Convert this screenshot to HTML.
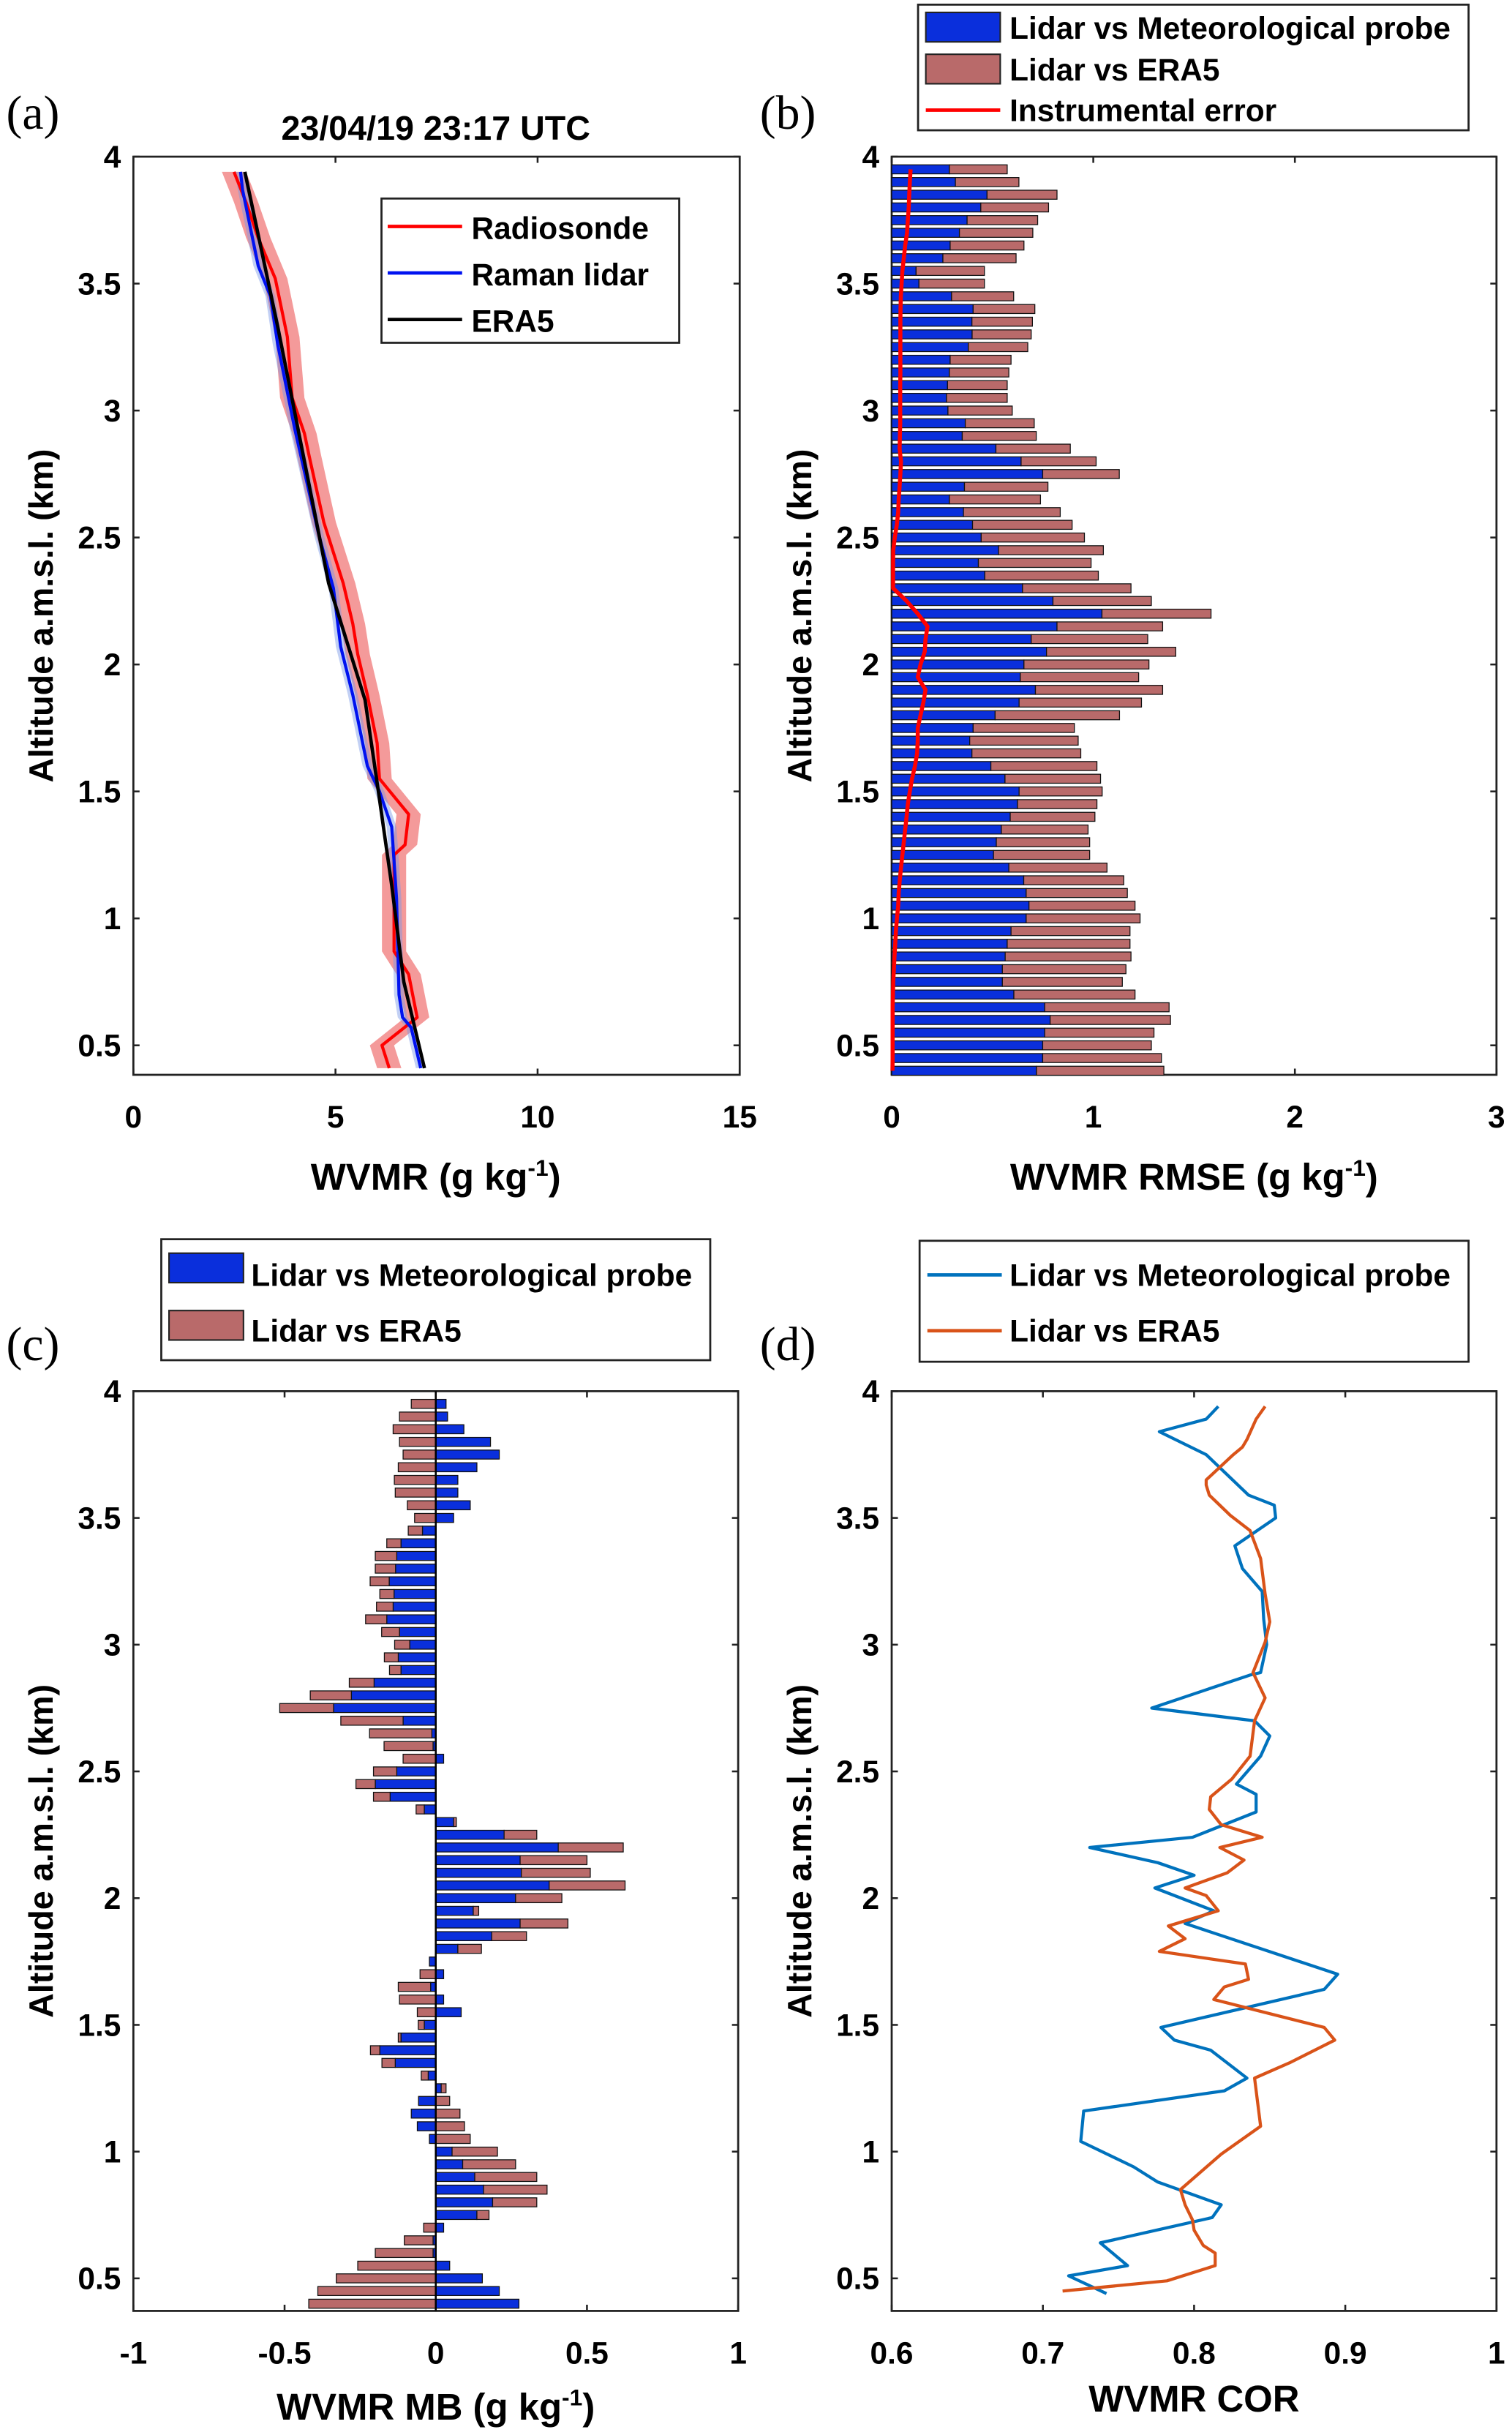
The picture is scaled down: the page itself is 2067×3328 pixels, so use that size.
<!DOCTYPE html>
<html><head><meta charset="utf-8"><style>
html,body{margin:0;padding:0;background:#fff;}
svg{display:block;}
text{font-family:"Liberation Sans",Arial,sans-serif;font-weight:bold;fill:#000;}
</style></head><body>
<svg id="fig" width="2067" height="3328" viewBox="0 0 975 1570" preserveAspectRatio="none" xmlns="http://www.w3.org/2000/svg"></svg>
<script>
// ---------- DATA ----------
const altBars = [3.95,3.90,3.85,3.80,3.75,3.70,3.65,3.60,3.55,3.50,3.45,3.40,3.35,3.30,3.25,3.20,3.15,3.10,3.05,3.00,2.95,2.90,2.85,2.80,2.75,2.70,2.65,2.60,2.55,2.50,2.45,2.40,2.35,2.30,2.25,2.20,2.15,2.10,2.05,2.00,1.95,1.90,1.85,1.80,1.75,1.70,1.65,1.60,1.55,1.50,1.45,1.40,1.35,1.30,1.25,1.20,1.15,1.10,1.05,1.00,0.95,0.90,0.85,0.80,0.75,0.70,0.65,0.60,0.55,0.50,0.45,0.40];
const rmseProbe = [.286,.316,.473,.442,.374,.336,.290,.254,.121,.135,.297,.404,.398,.399,.380,.290,.286,.277,.272,.279,.365,.350,.517,.642,.749,.361,.286,.356,.401,.444,.530,.430,.462,.649,.800,1.043,.820,.692,.768,.656,.638,.713,.632,.513,.404,.387,.398,.492,.562,.632,.624,.588,.544,.519,.505,.581,.655,.667,.681,.667,.592,.573,.563,.549,.549,.606,.759,.786,.759,.749,.749,.718];
const rmseEra = [.287,.315,.347,.336,.350,.364,.366,.363,.339,.325,.308,.306,.300,.293,.295,.302,.295,.296,.301,.319,.342,.367,.369,.372,.380,.414,.452,.480,.494,.512,.520,.559,.563,.538,.488,.541,.524,.578,.641,.620,.587,.631,.607,.617,.502,.538,.540,.526,.474,.412,.394,.420,.430,.463,.477,.487,.496,.502,.526,.565,.590,.609,.624,.613,.595,.601,.617,.597,.542,.539,.589,.632];
const instrErr = [.094,.090,.087,.085,.080,.076,.067,.060,.053,.049,.045,.044,.043,.043,.043,.043,.043,.042,.042,.042,.042,.041,.039,.046,.043,.039,.035,.032,.025,.015,.008,.007,.007,.007,.074,.129,.178,.168,.164,.143,.129,.168,.157,.143,.129,.129,.126,.115,.101,.090,.080,.074,.067,.060,.053,.046,.040,.035,.032,.026,.021,.018,.014,.011,.008,.006,.005,.005,.005,.005,.005,.004];
const mbProbe = [.034,.039,.093,.181,.210,.136,.073,.073,.114,.059,-.044,-.115,-.129,-.133,-.154,-.138,-.141,-.162,-.120,-.086,-.124,-.115,-.204,-.279,-.338,-.108,-.013,-.009,.026,-.129,-.200,-.151,-.038,.059,.226,.405,.279,.283,.375,.264,.124,.279,.185,.073,-.021,.026,-.017,.026,.084,-.038,-.115,-.185,-.134,-.025,.018,-.057,-.081,-.061,-.021,.054,.089,.129,.158,.188,.136,.026,-.009,-.009,.046,.154,.210,.275];
const mbEra = [-.081,-.120,-.141,-.120,-.108,-.124,-.137,-.134,-.094,-.070,-.047,-.047,-.071,-.067,-.063,-.047,-.055,-.070,-.059,-.050,-.046,-.038,-.082,-.136,-.178,-.206,-.206,-.162,-.108,-.077,-.064,-.055,-.027,.009,.108,.215,.221,.228,.251,.153,.018,.158,.115,.078,0,-.052,-.107,-.120,-.061,-.020,-.009,-.031,-.044,-.023,.016,.046,.080,.095,.114,.150,.175,.205,.210,.146,.040,-.040,-.095,-.191,-.258,-.329,-.390,-.420];
const altEra5 = [3.94,3.33,2.32,1.86,1.50,1.13,0.75,0.41];
const wvEra5 = [2.76,3.57,4.83,5.73,6.06,6.39,6.69,7.20];
const altLidar = [3.94,3.87,3.57,3.45,3.26,2.93,2.51,2.30,2.07,1.88,1.60,1.50,1.36,1.08,0.70,0.61,0.57,0.41];
const wvLidar = [2.65,2.70,3.09,3.39,3.57,3.99,4.59,4.95,5.13,5.43,5.79,6.09,6.39,6.51,6.57,6.66,6.87,7.11];
const altSonde = [3.94,3.82,3.68,3.52,3.29,3.05,2.91,2.82,2.56,2.32,2.16,2.04,1.88,1.69,1.55,1.41,1.29,1.25,0.87,0.78,0.61,0.50,0.41];
const wvSonde = [2.49,2.79,3.09,3.51,3.81,3.93,4.23,4.35,4.71,5.19,5.43,5.55,5.79,6.03,6.09,6.81,6.72,6.45,6.45,6.81,7.02,6.15,6.33];
const altCorProbe = [3.94,3.89,3.84,3.75,3.59,3.55,3.50,3.39,3.30,3.21,3.10,3.00,2.89,2.88,2.75,2.70,2.64,2.56,2.45,2.41,2.34,2.24,2.20,2.14,2.09,2.04,1.95,1.90,1.70,1.64,1.49,1.44,1.40,1.29,1.24,1.16,1.04,0.94,0.88,0.79,0.74,0.64,0.55,0.51,0.44];
const corProbe = [.816,.808,.777,.808,.836,.853,.854,.827,.832,.845,.846,.848,.844,.837,.772,.840,.850,.844,.828,.841,.841,.799,.731,.776,.800,.774,.813,.794,.895,.886,.778,.787,.811,.835,.820,.727,.725,.760,.776,.818,.812,.738,.756,.717,.742];
const altCorEra = [3.94,3.89,3.81,3.78,3.75,3.65,3.63,3.59,3.51,3.45,3.34,3.20,3.09,3.01,2.89,2.79,2.70,2.56,2.47,2.40,2.35,2.29,2.24,2.20,2.15,2.10,2.04,2.01,1.95,1.89,1.84,1.79,1.74,1.68,1.65,1.60,1.49,1.44,1.35,1.29,1.10,0.99,0.85,0.79,0.73,0.69,0.63,0.60,0.55,0.49,0.45];
const corEra = [.847,.841,.835,.832,.826,.808,.808,.810,.824,.837,.844,.847,.850,.847,.839,.847,.840,.837,.825,.811,.810,.818,.845,.817,.833,.822,.794,.808,.816,.783,.794,.777,.834,.836,.820,.813,.886,.893,.863,.840,.844,.818,.791,.794,.799,.800,.806,.814,.814,.782,.713];
const ticksAlt = [0.5,1,1.5,2,2.5,3,3.5,4];
const tickLabelsAlt = ['0.5','1','1.5','2','2.5','3','3.5','4'];
const ticksA = [0,5,10,15];
const ticksB = [0,1,2,3];
const ticksC = [-1,-0.5,0,0.5,1];
const tickLabelsC = ['-1','-0.5','0','0.5','1'];
const ticksD = [0.6,0.7,0.8,0.9,1];
const tickLabelsD = ['0.6','0.7','0.8','0.9','1'];

// ---------- HELPERS ----------
const NS='http://www.w3.org/2000/svg';
const svg=document.getElementById('fig');
function mk(tag, attrs, parent){const e=document.createElementNS(NS,tag);for(const k in attrs)e.setAttribute(k,attrs[k]);(parent||svg).appendChild(e);return e;}
function lin(d0,d1,r0,r1){return v=>r0+(v-d0)*(r1-r0)/(d1-d0);}
const BLUE='#0a2fdc', BROWN='#b96a6a';

function panel(name, L, R, T, B, xs, ys, xticks, xlabels){
  const g=mk('g',{});
  
  
  const frame=mk('rect',{x:L,y:T,width:R-L,height:B-T,fill:'none',stroke:'#222','stroke-width':1.3},g);
  
  
  xticks.forEach((t,i)=>{
    const x=xs(t);
    mk('line',{x1:x,y1:B,x2:x,y2:B-4,stroke:'#222','stroke-width':1.2},g);
    mk('line',{x1:x,y1:T,x2:x,y2:T+4,stroke:'#222','stroke-width':1.2},g);
    const tx=mk('text',{x:x,y:B+34,'text-anchor':'middle','font-size':20},g);
    tx.textContent=xlabels[i];
    
    
  });
  ticksAlt.forEach((t,i)=>{
    const y=ys(t);
    mk('line',{x1:L,y1:y,x2:L+4,y2:y,stroke:'#222','stroke-width':1.2},g);
    mk('line',{x1:R,y1:y,x2:R-4,y2:y,stroke:'#222','stroke-width':1.2},g);
    const ty=mk('text',{x:L-8,y:y+7,'text-anchor':'end','font-size':20},g);
    ty.textContent=tickLabelsAlt[i];
    
    
  });
  const yl=mk('text',{x:0,y:0,'text-anchor':'middle','font-size':22,transform:'translate('+(L-52)+','+((T+B)/2)+') rotate(-90)'},g);
  yl.textContent='Altitude a.m.s.l. (km)';
  
  
  return g;
}
function xTitle(x,y,main,sup,tail){
  const t=mk('text',{x:x,y:y,'text-anchor':'middle','font-size':24});
  
  
  if(sup){
    t.appendChild(document.createTextNode(main));
    const s=mk('tspan',{'font-size':15,dy:-9},t); s.textContent=sup;
    const r=mk('tspan',{dy:9},t); r.textContent=tail;
  } else t.textContent=main;
}
function letter(x,y,s){const t=mk('text',{x:x,y:y,'font-size':31,style:'font-family:"Liberation Serif",serif;font-weight:normal'});t.textContent=s;
  
  }
function polyline(xsArr,ysArr,xs,ys,color,w,name){
  const pts=xsArr.map((v,i)=>xs(v).toFixed(1)+','+ys(ysArr[i]).toFixed(1)).join(' ');
  const p=mk('polyline',{points:pts,fill:'none',stroke:color,'stroke-width':w,'stroke-linejoin':'round'});
  
  
  return p;
}
function band(xsArr,ysArr,xs,ys,d,fill,name){
  const up=xsArr.map((v,i)=>xs(v+d).toFixed(1)+','+ys(ysArr[i]).toFixed(1));
  const dn=xsArr.map((v,i)=>xs(v-d).toFixed(1)+','+ys(ysArr[i]).toFixed(1)).reverse();
  const p=mk('polygon',{points:up.concat(dn).join(' '),fill:fill,stroke:'none'});
  
  
}
function legendBox(x,y,w,h,name){const r=mk('rect',{x:x,y:y,width:w,height:h,fill:'#fff',stroke:'#222','stroke-width':1.3});
  
  }
function legendText(x,y,s){const t=mk('text',{x:x,y:y,'font-size':20});t.textContent=s;
  
  }
function legendPatch(x,y,fill){const r=mk('rect',{x:x,y:y,width:48,height:19,fill:fill,stroke:'#222','stroke-width':1});
  
  }
function legendLine(x,y,color){const l=mk('line',{x1:x,y1:y,x2:x+48,y2:y,stroke:color,'stroke-width':2.2});
  
  }

// ---------- PANEL A ----------
const xa=lin(0,15,86,477), ya=lin(4,0.5,101,674);
panel('panel-a',86,477,101,693,xa,ya,ticksA,['0','5','10','15']);
band(wvSonde,altSonde,xa,ya,0.3,'rgba(238,100,100,0.65)','radiosonde-uncertainty');
band(wvLidar,altLidar,xa,ya,0.12,'rgba(120,150,230,0.45)','lidar-uncertainty');
polyline(wvSonde,altSonde,xa,ya,'#f00',2,'radiosonde-line');
polyline(wvLidar,altLidar,xa,ya,'#0012f0',2,'lidar-line');
polyline(wvEra5,altEra5,xa,ya,'#000',2.2,'era5-line');
const ta=mk('text',{x:281,y:90,'text-anchor':'middle','font-size':22});ta.textContent='23/04/19 23:17 UTC';


letter(4,83,'(a)');
xTitle(281,767,'WVMR (g kg','-1',')');
legendBox(246,128,192,93,'legend-a');
legendLine(250,146,'#f00');legendText(304,154,'Radiosonde');
legendLine(250,176,'#0012f0');legendText(304,184,'Raman lidar');
legendLine(250,206,'#000');legendText(304,214,'ERA5');

// ---------- PANEL B ----------
const xb=lin(0,3,575,965), yb=lin(4,0.5,101,674);
panel('panel-b',575,965,101,693,xb,yb,ticksB,['0','1','2','3']);
const bhB=5.8;
altBars.forEach((a,i)=>{
  const y=yb(a)-bhB/2;
  const r1=mk('rect',{x:xb(0),y:y,width:xb(rmseProbe[i])-xb(0),height:bhB,fill:BLUE,stroke:'#111','stroke-width':0.6});
  
  
  const r2=mk('rect',{x:xb(rmseProbe[i]),y:y,width:xb(rmseProbe[i]+rmseEra[i])-xb(rmseProbe[i]),height:bhB,fill:BROWN,stroke:'#111','stroke-width':0.6});
  
  
});
polyline(instrErr,altBars,xb,yb,'#f00',2.6,'instrumental-error-line');
letter(490,83,'(b)');
xTitle(770,767,'WVMR RMSE (g kg','-1',')');
legendBox(592,3,355,81,'legend-b');
legendPatch(597,8,BLUE);legendText(651,25,'Lidar vs Meteorological probe');
legendPatch(597,35,BROWN);legendText(651,52,'Lidar vs ERA5');
legendLine(597,71,'#f00');legendText(651,78,'Instrumental error');

// ---------- PANEL C ----------
const xc=lin(-1,1,86,476), yc=lin(4,0.5,897,1469);
panel('panel-c',86,476,897,1490,xc,yc,ticksC,tickLabelsC);
const bhC=5.8;
altBars.forEach((a,i)=>{
  const y=yc(a)-bhC/2;
  const v1=mbProbe[i], v2=mbEra[i];
  const s2=(Math.sign(v2)===Math.sign(v1))?v1:0;
  const r1=mk('rect',{x:Math.min(xc(0),xc(v1)),y:y,width:Math.abs(xc(v1)-xc(0)),height:bhC,fill:BLUE,stroke:'#111','stroke-width':0.6});
  
  
  if(v2!==0){
    const r2=mk('rect',{x:Math.min(xc(s2),xc(s2+v2)),y:y,width:Math.abs(xc(s2+v2)-xc(s2)),height:bhC,fill:BROWN,stroke:'#111','stroke-width':0.6});
    
    
  }
});
const zl=mk('line',{x1:xc(0),y1:897,x2:xc(0),y2:1490,stroke:'#000','stroke-width':1.2});


letter(4,877,'(c)');
xTitle(281,1560,'WVMR MB (g kg','-1',')');
legendBox(104,799,354,78,'legend-c');
legendPatch(109,808,BLUE);legendText(162,829,'Lidar vs Meteorological probe');
legendPatch(109,845,BROWN);legendText(162,865,'Lidar vs ERA5');

// ---------- PANEL D ----------
const xd=lin(0.6,1,575,965), yd=lin(4,0.5,897,1469);
panel('panel-d',575,965,897,1490,xd,yd,ticksD,tickLabelsD);
polyline(corProbe,altCorProbe,xd,yd,'#0072BD',2,'cor-probe-line');
polyline(corEra,altCorEra,xd,yd,'#D95319',2,'cor-era5-line');
letter(490,877,'(d)');
xTitle(770,1555,'WVMR COR');
legendBox(593,800,354,78,'legend-d');
legendLine(598,822,'#0072BD');legendText(651,829,'Lidar vs Meteorological probe');
legendLine(598,858,'#D95319');legendText(651,865,'Lidar vs ERA5');
</script>
</body></html>
